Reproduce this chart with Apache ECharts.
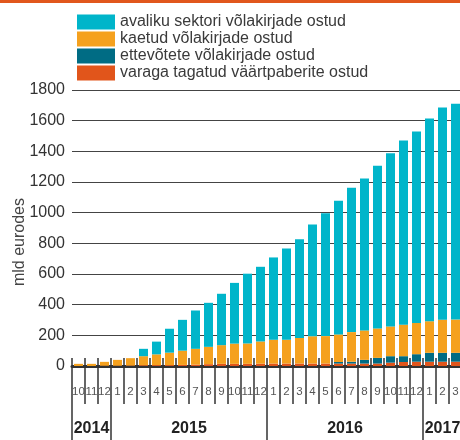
<!DOCTYPE html>
<html>
<head>
<meta charset="utf-8">
<script src="https://cdn.jsdelivr.net/npm/echarts@6/dist/echarts.min.js"></script>
<style>
html,body{margin:0;padding:0;background:#fff;}
#chart{width:460px;height:440px;}
</style>
</head>
<body>
<div id="chart"></div>
<script>
// Categories (months Oct 2014 – Mar 2017)
const months = ['10','11','12','1','2','3','4','5','6','7','8','9','10','11','12','1','2','3','4','5','6','7','8','9','10','11','12','1','2','3'];
// Year labels on a half-month scale (61 points), and where year boundaries fall
const yearNames = ['2014','2015','2016','2017'];
const yearLabelIdx = [3, 18, 42, 57];
const yearBoundIdx = [0, 6, 30, 54];

// Series values (mld eurodes)
const avaliku = [0,0,0,0,0,48,83,156,201,250,287,335,396,455,487,537,595,644,729,802,872,941,991,1061,1130,1202,1249,1322,1384,1407];
const kaetud = [14,14,25,38,48,59,70,81,93,103,113,122,132,133,145,155,155,167,178,179,180,193,192,192,194,205,204,206,216,217];
const ettevotete = [0,0,0,0,0,0,0,0,0,0,0,0,0,0,0,0,0,0,0,0,10,12,24,37,42,38,49,58,58,58];
const varaga = [0,0,2,2,3,5,6,6,7,9,12,14,14,14,15,16,16,16,16,16,16,16,16,16,22,26,28,28,28,28];

const names = ['avaliku sektori võlakirjade ostud','kaetud võlakirjade ostud','ettevõtete võlakirjade ostud','varaga tagatud väärtpaberite ostud'];
const colors = {avaliku:'#00B5CA', kaetud:'#F5A11E', ettevotete:'#006C84', varaga:'#E1551B'};

const halfPoints = [];
for (let k = 0; k <= 60; k++) {
  const p = yearLabelIdx.indexOf(k);
  halfPoints.push(p >= 0 ? yearNames[p] : '');
}

const FONT = 'Liberation Sans, Arial, Helvetica, sans-serif';
const chart = echarts.init(document.getElementById('chart'), null, {renderer:'canvas'});

function bar(name, data, color) {
  return {
    name: name, type: 'bar', stack: 'app', data: data, barWidth: 9,
    xAxisIndex: 0, yAxisIndex: 0,
    itemStyle: {color: color}, emphasis: {disabled: true}
  };
}

chart.setOption({
  animation: false,
  textStyle: {fontFamily: FONT},
  graphic: [{type:'rect', left:0, top:0, shape:{width:460, height:3}, style:{fill:'#E1571D'}}],
  legend: {
    orient: 'vertical', left: 72, top: 9, itemWidth: 38, itemHeight: 15, itemGap: 1,
    icon: 'rect', selectedMode: false,
    data: names,
    textStyle: {fontSize: 16, color: '#3a3a3a', fontFamily: FONT, lineHeight: 16}
  },
  grid: {left: 72, right: -2, top: 90, bottom: 74, containLabel: false, outerBoundsMode: 'none'},
  xAxis: [
    {
      type: 'category', data: months, position: 'bottom',
      axisLine: {show: true, onZero: false, lineStyle: {color: '#333', width: 3}},
      axisTick: {show: true, interval: 0, length: 38, lineStyle: {color: '#333', width: 1.5}},
      axisLabel: {interval: 0, margin: 20, fontSize: 11.5, color: '#555', fontFamily: FONT},
      splitLine: {show: false}
    },
    {
      type: 'category', data: months, position: 'bottom',
      axisLine: {show: false, onZero: false},
      axisTick: {show: true, inside: true, interval: 0, length: 8, lineStyle: {color: '#333', width: 1.5}},
      axisLabel: {show: false}, splitLine: {show: false}
    },
    {
      type: 'category', data: halfPoints, position: 'bottom', boundaryGap: false,
      axisLine: {show: false, onZero: false},
      axisTick: {show: true, length: 74, interval: function (i) { return yearBoundIdx.indexOf(i) >= 0; }, lineStyle: {color: '#333', width: 1.5}},
      axisLabel: {interval: 0, margin: 55, fontSize: 16, fontWeight: 'bold', color: '#222', fontFamily: FONT},
      splitLine: {show: false}
    }
  ],
  yAxis: {
    type: 'value', min: 0, max: 1800, interval: 200,
    name: 'mld eurodes', nameLocation: 'middle', nameGap: 44, nameRotate: 90, nameMoveOverlap: false,
    nameTextStyle: {fontSize: 16, color: '#444', fontFamily: FONT, padding: [0, 28, 0, 0]},
    axisLine: {show: false}, axisTick: {show: false},
    axisLabel: {fontSize: 16, color: '#333', margin: 7, fontFamily: FONT, formatter: function (v) { return String(v); }},
    splitLine: {show: true, lineStyle: {color: '#444', width: 1}}
  },
  series: [
    bar(names[3], varaga, colors.varaga),
    bar(names[2], ettevotete, colors.ettevotete),
    bar(names[1], kaetud, colors.kaetud),
    bar(names[0], avaliku, colors.avaliku)
  ]
});
</script>
</body>
</html>
